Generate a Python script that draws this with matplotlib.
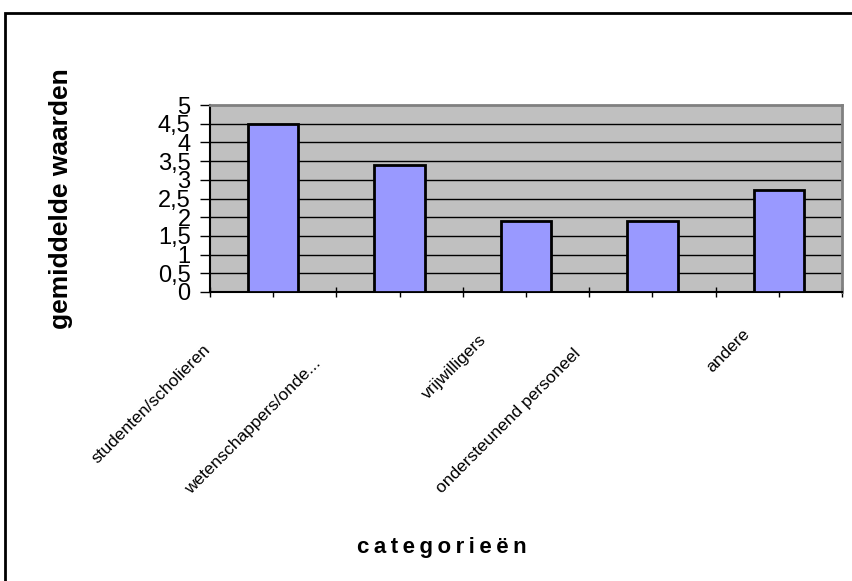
import numpy as np
import matplotlib
matplotlib.use("Agg")
import matplotlib.pyplot as plt
from matplotlib.patches import Rectangle

plt.rcParams['font.family'] = ['Liberation Sans', 'DejaVu Sans']

# Data
categories = ["studenten/scholieren", "wetenschappers/onde...", "vrijwilligers",
              "ondersteunend personeel", "andere"]
values = [4.5, 3.4, 1.9, 1.9, 2.72]
y_ticks = [0, 0.5, 1, 1.5, 2, 2.5, 3, 3.5, 4, 4.5, 5]
y_tick_labels = ["0", "0,5", "1", "1,5", "2", "2,5", "3", "3,5", "4", "4,5", "5"]

W, H = 852, 581
fig = plt.figure(figsize=(W / 100, H / 100), dpi=100)

# outer chart frame (runs off the right and bottom edge)
frame = Rectangle((5 / W, -0.2), 1.2, 1.2 - 13 / H, transform=fig.transFigure,
                  fill=False, edgecolor="black", linewidth=2, clip_on=False)
fig.patches.append(frame)

ax = fig.add_axes([210 / W, 1 - 292 / H, 632 / W, 187 / H])
ax.set_facecolor("#C0C0C0")

x = np.arange(len(categories))
ax.bar(x, values, width=0.4, color="#9999FF", edgecolor="black", linewidth=2, zorder=3)

# horizontal gridlines
for t in y_ticks[1:-1]:
    ax.axhline(t, color="black", linewidth=1, zorder=1)

ax.set_xlim(-0.5, len(categories) - 0.5)
ax.set_ylim(0, 5)
ax.set_yticks(y_ticks)
ax.set_yticklabels(y_tick_labels, fontsize=17)
ax.tick_params(axis="y", direction="out", length=7, width=1, pad=7)

ax.set_xticks(np.arange(-0.5, len(categories), 0.5))
ax.set_xticklabels([])
ax.tick_params(axis="x", direction="inout", length=7, width=1)

for side in ["left", "bottom"]:
    ax.spines[side].set_color("black")
    ax.spines[side].set_linewidth(1.5)
for side in ["top", "right"]:
    ax.spines[side].set_color("#808080")
    ax.spines[side].set_linewidth(2)

# rotated category labels, staggered like the original layout
label_ends = [(213, 342), (324, 356), (489, 332), (584, 346), (753, 326)]
for name, (px, py) in zip(categories, label_ends):
    fig.text(px / W, 1 - py / H, name, rotation=45, ha="right", va="top", fontsize=12.5)

fig.text(61 / W, 1 - 199 / H, "gemiddelde waarden", rotation=90, ha="center",
         va="center", fontsize=19, fontweight="bold")
fig.text(442 / W, 1 - 547 / H, "\u2009".join("categorieën"), ha="center", va="center",
         fontsize=16, fontweight="bold")

fig.savefig("out.png", dpi=100)
